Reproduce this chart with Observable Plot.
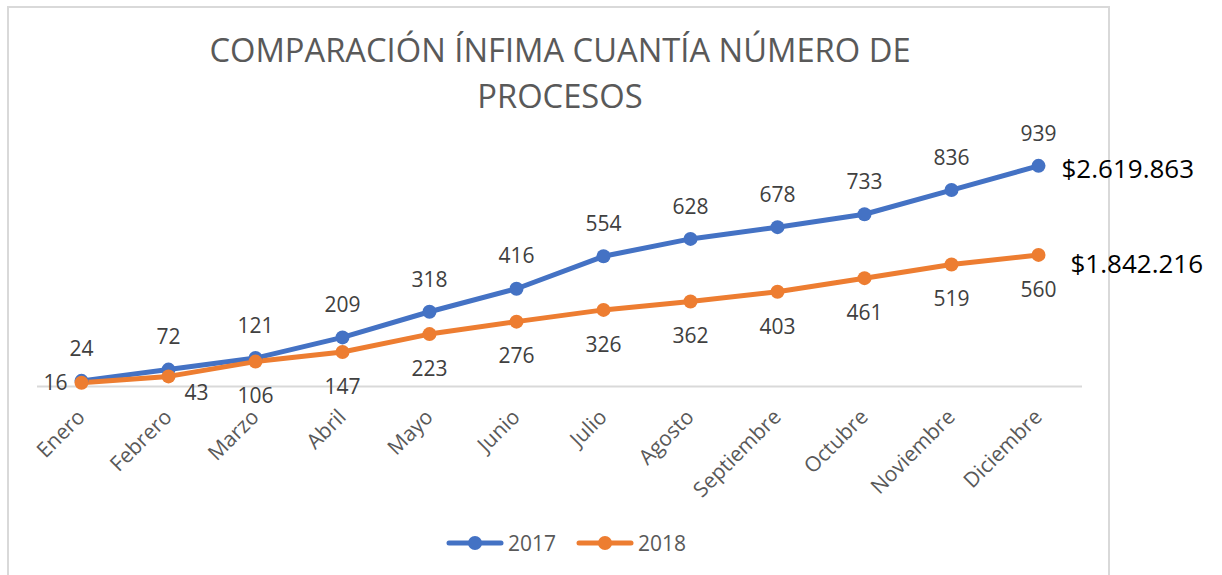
<!DOCTYPE html>
<html>
<head>
<meta charset="utf-8">
<script src="https://cdn.jsdelivr.net/npm/d3@7"></script>
<script src="https://cdn.jsdelivr.net/npm/@observablehq/plot@0.6"></script>
<style>
  html, body { margin: 0; padding: 0; background: #fff; overflow: hidden; }
  #wrap { position: relative; width: 1222px; height: 575px; font-family: "Open Sans", sans-serif; }
  #frame { position: absolute; left: 7px; top: 6px; width: 1103px; height: 600px; border: 2px solid #D9D9D9; box-sizing: border-box; }
  #title { position: absolute; left: 0; width: 1120px; top: 27px; text-align: center; color: #595959; font-size: 32.7px; line-height: 46px; }
  #chart { position: absolute; left: 0; top: 0; }
  #legend { position: absolute; top: 529px; left: 446px; display: flex; align-items: center; color: #595959; font-size: 21px; }
  #legend .item { display: flex; align-items: center; margin-right: 20px; }
  #legend svg { margin-right: 4px; }
</style>
</head>
<body>
<div id="wrap">
  <div id="frame"></div>
  <div id="title">COMPARACIÓN ÍNFIMA CUANTÍA NÚMERO DE<br>PROCESOS</div>
  <div id="chart"></div>
  <div id="legend"></div>
</div>
<script>
const months = ["Enero","Febrero","Marzo","Abril","Mayo","Junio","Julio","Agosto","Septiembre","Octubre","Noviembre","Diciembre"];
const values2017 = [24,72,121,209,318,416,554,628,678,733,836,939];
const values2018 = [16,43,106,147,223,276,326,362,403,461,519,560];
const seriesNames = ["2017","2018"];
const seriesColors = ["#4472C4","#ED7D31"];
const totals = ["$2.619.863","$1.842.216"];

const d17 = months.map((m,i) => ({month: m, value: values2017[i], i}));
const d18 = months.map((m,i) => ({month: m, value: values2018[i], i}));
const last17 = d17.slice(-1).map(d => ({...d, label: totals[0]}));
const last18 = d18.slice(-1).map(d => ({...d, label: totals[1]}));

const labelFont = {fontSize: 21, fill: "#404040", fontFamily: "Open Sans"};

const plot = Plot.plot({
  width: 1222,
  height: 575,
  marginLeft: 37,
  marginRight: 140,
  marginTop: 151,
  marginBottom: 189,
  style: {fontFamily: "Open Sans", background: "transparent", overflow: "visible"},
  x: {type: "point", domain: months, padding: 0.5},
  y: {domain: [0, 1000], axis: null},
  marks: [
    Plot.ruleY([0], {stroke: "#D9D9D9", strokeWidth: 2}),
    Plot.axisX({tickRotate: -45, tickSize: 0, tickPadding: 27, fontSize: 21, fill: "#595959", label: null}),
    Plot.line(d17, {x: "month", y: "value", stroke: seriesColors[0], strokeWidth: 5, strokeLinejoin: "round", strokeLinecap: "round"}),
    Plot.line(d18, {x: "month", y: "value", stroke: seriesColors[1], strokeWidth: 5, strokeLinejoin: "round", strokeLinecap: "round"}),
    Plot.dot(d17, {x: "month", y: "value", r: 7, fill: seriesColors[0]}),
    Plot.dot(d18, {x: "month", y: "value", r: 7, fill: seriesColors[1]}),
    Plot.text(d17, {x: "month", y: "value", text: d => String(d.value), dy: -32, ...labelFont}),
    Plot.text(d18.filter(d => d.i > 1), {x: "month", y: "value", text: d => String(d.value), dy: 35, ...labelFont}),
    Plot.text(d18.filter(d => d.i === 0), {x: "month", y: "value", text: d => String(d.value), dx: -26, dy: 1, ...labelFont}),
    Plot.text(d18.filter(d => d.i === 1), {x: "month", y: "value", text: d => String(d.value), dx: 28, dy: 17, ...labelFont}),
    Plot.text(last17, {x: "month", y: "value", text: "label", dx: 23, dy: 4, textAnchor: "start", fontSize: 26, fill: "#000"}),
    Plot.text(last18, {x: "month", y: "value", text: "label", dx: 32, dy: 10, textAnchor: "start", fontSize: 26, fill: "#000"})
  ]
});
document.getElementById("chart").appendChild(plot);

const legend = document.getElementById("legend");
seriesNames.forEach((name, k) => {
  const item = document.createElement("div");
  item.className = "item";
  item.innerHTML = `<svg width="58" height="16"><line x1="3" y1="8" x2="55" y2="8" stroke="${seriesColors[k]}" stroke-width="5" stroke-linecap="round"/><circle cx="29" cy="8" r="7" fill="${seriesColors[k]}"/></svg><span>${name}</span>`;
  legend.appendChild(item);
});
</script>
</body>
</html>
